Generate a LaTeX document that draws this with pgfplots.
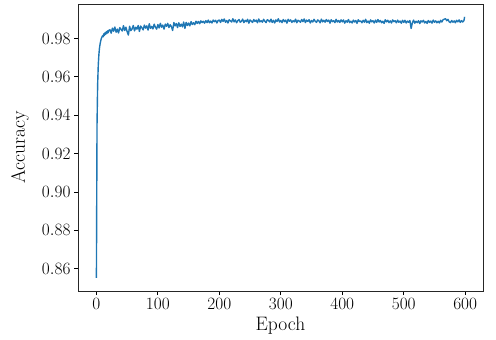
\documentclass[border=0pt]{standalone}
\usepackage{pgfplots}
\pgfplotsset{compat=1.18}
\usetikzlibrary{calc}
\definecolor{mplblue}{HTML}{1F77B4}
\begin{document}
\begin{tikzpicture}
\begin{axis}[
  scale only axis, width=405pt, height=287pt,
  xmin=-29.95, xmax=628.95, ymin=0.8484, ymax=0.998,
  xtick={0,100,200,300,400,500,600},
  ytick={0.86,0.88,0.90,0.92,0.94,0.96,0.98},
  yticklabel style={/pgf/number format/.cd, fixed, fixed zerofill, precision=2},
  scaled y ticks=false,
  tick align=outside, xtick pos=bottom, ytick pos=left,
  major tick length=4pt,
  tick style={black, line width=0.8pt},
  axis line style={line width=0.8pt, black!85},
  tick label style={font=\fontsize{19}{22}\selectfont},
  label style={font=\fontsize{19.5}{23}\selectfont},
  xlabel={Epoch}, ylabel={Accuracy},
  xlabel style={at={(axis description cs:0.5,-0.122)}, anchor=center},
  ylabel style={at={(axis description cs:-0.143,0.5)}, anchor=center},
]
\addplot[mplblue, line width=1.4pt, mark=none, line join=round] coordinates {
(0,0.8552)(1,0.9350)(2,0.9560)(3,0.9660)(4,0.9715)(5,0.9750)(6,0.9772)(7,0.9788)(8,0.9800)(9,0.9808)
(10,0.9814)(11,0.9809)(12,0.9824)(13,0.9816)(14,0.9830)(15,0.9822)(16,0.9835)(17,0.9826)(18,0.9840)(19,0.9830)
(20,0.9842)(22,0.9846)(24,0.9828)(26,0.9854)(28,0.9838)(30,0.9860)(32,0.9833)(34,0.9849)(36,0.9829)(38,0.9857)
(40,0.9848)(42,0.9839)(44,0.9867)(46,0.9842)(48,0.9859)(50,0.9836)(52,0.9818)(54,0.9864)(56,0.9841)(58,0.9850)
(60,0.9868)(62,0.9840)(64,0.9859)(66,0.9849)(68,0.9868)(70,0.9837)(72,0.9865)(74,0.9856)(76,0.9845)(78,0.9870)
(80,0.9854)(82,0.9866)(84,0.9844)(86,0.9877)(88,0.9853)(90,0.9863)(92,0.9850)(94,0.9875)(96,0.9859)(98,0.9849)
(100,0.9873)(102,0.9855)(104,0.9879)(106,0.9859)(108,0.9870)(110,0.9849)(112,0.9875)(114,0.9864)(116,0.9879)(118,0.9857)
(120,0.9872)(122,0.9862)(124,0.9842)(126,0.9883)(128,0.9866)(130,0.9878)(132,0.9857)(134,0.9882)(136,0.9863)(138,0.9875)
(140,0.9861)(142,0.9886)(144,0.9853)(146,0.9884)(148,0.9868)(150,0.9881)(152,0.9866)(154,0.9888)(156,0.9873)(158,0.9882)
(160,0.9872)(162,0.9890)(164,0.9879)(166,0.9889)(168,0.9877)(170,0.9892)(172,0.9883)(174,0.9890)(176,0.9880)(178,0.9893)
(180,0.9883)(182,0.9896)(184,0.9882)(186,0.9891)(188,0.9881)(190,0.9896)(192,0.9888)(194,0.9895)(196,0.9881)(198,0.9894)
(200,0.9896)(202,0.9884)(204,0.9900)(206,0.9889)(208,0.9902)(210,0.9885)(212,0.9894)(214,0.9881)(216,0.9898)(218,0.9892)
(220,0.9886)(222,0.9903)(224,0.9887)(226,0.9897)(228,0.9882)(230,0.9893)(232,0.9899)(234,0.9885)(236,0.9890)(238,0.9901)
(240,0.9883)(242,0.9895)(244,0.9888)(246,0.9900)(248,0.9880)(250,0.9897)(252,0.9891)(254,0.9884)(256,0.9899)(258,0.9889)
(260,0.9896)(262,0.9882)(264,0.9902)(266,0.9887)(268,0.9893)(270,0.9885)(272,0.9900)(274,0.9890)(276,0.9883)(278,0.9898)
(280,0.9894)(282,0.9886)(284,0.9901)(286,0.9884)(288,0.9895)(290,0.9881)(292,0.9897)(294,0.9889)(296,0.9903)(298,0.9886)
(300,0.9894)(302,0.9883)(304,0.9899)(306,0.9888)(308,0.9896)(310,0.9880)(312,0.9900)(314,0.9890)(316,0.9897)(318,0.9884)
(320,0.9893)(322,0.9887)(324,0.9901)(326,0.9882)(328,0.9895)(330,0.9891)(332,0.9885)(334,0.9899)(336,0.9888)(338,0.9902)
(340,0.9883)(342,0.9896)(344,0.9889)(346,0.9898)(348,0.9881)(350,0.9894)(352,0.9886)(354,0.9900)(356,0.9890)(358,0.9884)
(360,0.9897)(362,0.9892)(364,0.9882)(366,0.9901)(368,0.9887)(370,0.9895)(372,0.9885)(374,0.9899)(376,0.9889)(378,0.9896)
(380,0.9880)(382,0.9898)(384,0.9888)(386,0.9893)(388,0.9883)(390,0.9900)(392,0.9886)(394,0.9894)(396,0.9884)(398,0.9897)
(400,0.9887)(402,0.9897)(404,0.9880)(406,0.9893)(408,0.9885)(410,0.9899)(412,0.9883)(414,0.9890)(416,0.9881)(418,0.9896)
(420,0.9886)(422,0.9894)(424,0.9879)(426,0.9898)(428,0.9888)(430,0.9892)(432,0.9882)(434,0.9895)(436,0.9885)(438,0.9900)
(440,0.9883)(442,0.9891)(444,0.9880)(446,0.9897)(448,0.9887)(450,0.9893)(452,0.9881)(454,0.9896)(456,0.9884)(458,0.9899)
(460,0.9886)(462,0.9894)(464,0.9882)(466,0.9890)(468,0.9879)(470,0.9898)(472,0.9887)(474,0.9895)(476,0.9883)(478,0.9892)
(480,0.9881)(482,0.9897)(484,0.9888)(486,0.9893)(488,0.9882)(490,0.9896)(492,0.9885)(494,0.9891)(496,0.9880)(498,0.9895)
(500,0.9884)(502,0.9895)(504,0.9881)(506,0.9891)(508,0.9885)(510,0.9894)(512,0.9852)(514,0.9882)(516,0.9896)(518,0.9880)
(520,0.9890)(522,0.9883)(524,0.9893)(526,0.9878)(528,0.9892)(530,0.9886)(532,0.9895)(534,0.9881)(536,0.9889)(538,0.9879)
(540,0.9894)(542,0.9884)(544,0.9891)(546,0.9880)(548,0.9896)(550,0.9885)(552,0.9892)(554,0.9882)(556,0.9890)(558,0.9881)
(560,0.9895)(562,0.9886)(564,0.9898)(566,0.9901)(568,0.9903)(570,0.9893)(572,0.9900)(574,0.9887)(576,0.9883)(578,0.9894)
(580,0.9885)(582,0.9892)(584,0.9882)(586,0.9895)(588,0.9887)(590,0.9897)(592,0.9884)(594,0.9893)(596,0.9886)(598,0.9894)
(599,0.9913)
};
\end{axis}
\pgfresetboundingbox
\path ($(current axis.south west)+(-78pt,-48pt)$) rectangle ($(current axis.north east)+(13pt,4pt)$);
\end{tikzpicture}
\end{document}
